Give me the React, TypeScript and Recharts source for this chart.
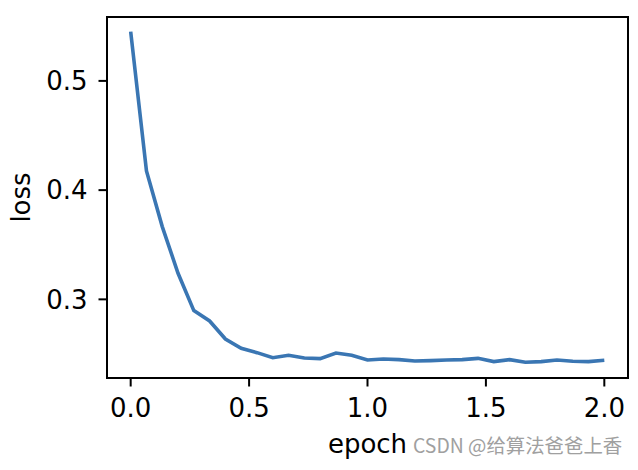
import { LineChart, Line, XAxis, YAxis, ReferenceArea } from "recharts"

// loss sampled every 1/15 epoch
const epochs = Array.from({ length: 31 }, (_, i) => i / 15)
const lossValues = [
  0.5451, 0.4176, 0.3666, 0.3239, 0.2897, 0.2802, 0.2637, 0.2552, 0.2512, 0.2466,
  0.2488, 0.2463, 0.2457, 0.2509, 0.2488, 0.2445, 0.2454, 0.2448, 0.2436, 0.2439,
  0.2445, 0.2448, 0.246, 0.243, 0.2448, 0.2424, 0.243, 0.2445, 0.2433, 0.243,
  0.2442,
]
const xTicks = [0, 0.5, 1, 1.5, 2]
const yTicks = [0.3, 0.4, 0.5]
const xDomain: [number, number] = [-0.1, 2.1]
const yDomain: [number, number] = [0.228, 0.5585]

const data = epochs.map((epoch, i) => ({ epoch, loss: lossValues[i] }))

const font = "DejaVu Sans, sans-serif"
const textStyle = { fontSize: 26, fill: "#000", fontFamily: font }
const spine = { stroke: "#000", strokeWidth: 2 }

export default function App() {
  return (
    <div style={{ position: "absolute", left: 0, top: 0, width: 638, height: 470, background: "#fff" }}>
      <LineChart width={638} height={470} data={data} margin={{ top: 17, right: 10, left: 0, bottom: 0 }}>
        <XAxis
          dataKey="epoch"
          type="number"
          domain={xDomain}
          ticks={xTicks}
          tickFormatter={(v: number) => v.toFixed(1)}
          height={92}
          tick={textStyle}
          tickSize={8.5}
          tickMargin={12}
          tickLine={spine}
          axisLine={spine}
          label={{ value: "epoch", position: "center", dy: 20, style: textStyle }}
        />
        <YAxis
          type="number"
          domain={yDomain}
          ticks={yTicks}
          tickFormatter={(v: number) => v.toFixed(1)}
          width={107}
          tick={textStyle}
          tickSize={8.5}
          tickMargin={11}
          tickLine={spine}
          axisLine={spine}
          label={{ value: "loss", angle: -90, position: "center", dx: -33, style: textStyle }}
        />
        {/* frame around the axes */}
        <ReferenceArea
          x1={xDomain[0]}
          x2={xDomain[1]}
          y1={yDomain[0]}
          y2={yDomain[1]}
          fill="none"
          stroke="#000"
          strokeWidth={2}
          ifOverflow="visible"
        />
        <Line
          dataKey="loss"
          type="linear"
          stroke="#3a76b3"
          strokeWidth={3.6}
          dot={false}
          isAnimationActive={false}
        />
      </LineChart>
      <div
        style={{
          position: "absolute",
          left: 413,
          top: 435,
          fontSize: 19.4,
          color: "#a0a0a0",
          fontFamily: "Noto Sans CJK SC, sans-serif",
          whiteSpace: "nowrap",
          lineHeight: "20px",
        }}
      >
        CSDN @给算法爸爸上香
      </div>
    </div>
  )
}
